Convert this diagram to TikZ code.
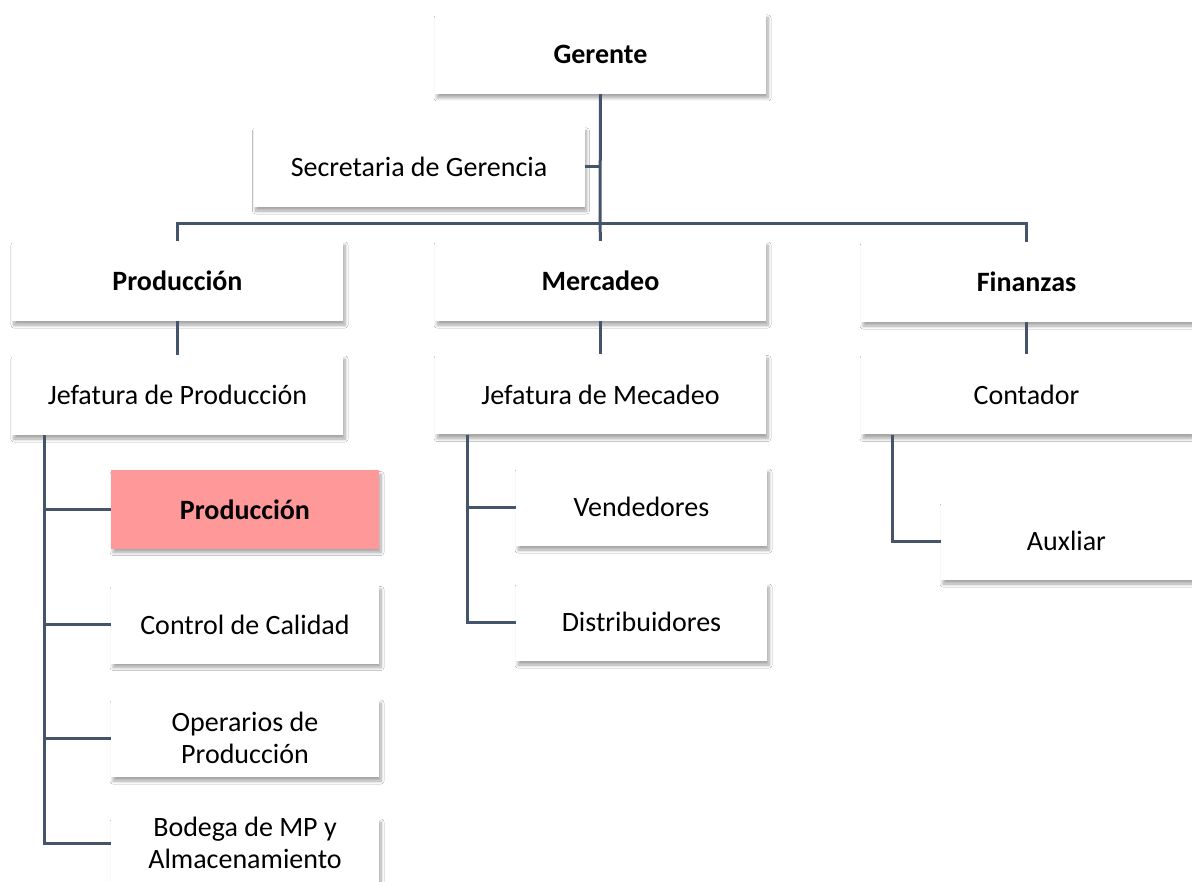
\documentclass[tikz,border=0pt]{standalone}
\usepackage{fontspec}
\setmainfont{Carlito}
\usetikzlibrary{shadows.blur}
\definecolor{linec}{HTML}{44546A}
\definecolor{pinkc}{HTML}{FF9999}
\tikzset{
  shad/.style={blur shadow={shadow xshift=2pt, shadow yshift=-4pt, shadow blur radius=3pt, shadow blur steps=8, shadow opacity=35}},
  box/.style={fill=white, inner sep=0pt, align=center, font=\fontsize{28}{32}\selectfont, shad},
  wide/.style={box, minimum width=331pt, minimum height=80pt},
  narrow/.style={box, minimum width=268pt, minimum height=78pt},
  narrowb/.style={box, minimum width=251pt, minimum height=78pt},
  conn/.style={draw=linec, line width=3pt},
  bold/.style={font=\fontsize{28}{32}\selectfont\bfseries},
  plain/.style={inner sep=0pt, align=center, font=\fontsize{28}{32}\selectfont}
}
\begin{document}
\begin{tikzpicture}[x=1pt,y=-1pt]
\useasboundingbox (0,0) rectangle (1192,882);
\clip (0,0) rectangle (1192,882);
\fill[white] (0,0) rectangle (1192,882);
\coordinate (bus) at (600,224);
\node[wide, bold] (ger) at (600.5,54) {Gerente};
\node[wide] (sec) at (419,167) {Secretaria de Gerencia};
\node[wide, bold] (prod) at (177.5,281) {Producción};
\node[wide, bold] (mer) at (600.5,281) {Mercadeo};
\node[wide, bold] (fin) at (1026.5,282) {Finanzas};
\node[wide] (jp) at (177.5,395) {Jefatura de Producción};
\node[wide] (jm) at (600.5,394.5) {Jefatura de Mecadeo};
\node[wide] (cont) at (1026.5,394.5) {Contador};
\node[narrow, bold, fill=pinkc] (p1) at (245,509.5) {Producción};
\node[narrow] (p2) at (245,624.5) {Control de Calidad};
\node[narrow] (p3) at (245,738) {Operarios de\\Producción};
\node[narrow] (p4) at (245,857) {};
\node[plain] (p4t) at (245,843) {Bodega de MP y\\Almacenamiento};
\node[narrowb] (m1) at (641.5,507) {Vendedores};
\node[narrowb] (m2) at (641.5,622) {Distribuidores};
\node[narrowb] (f1) at (1066.5,541) {Auxliar};
\coordinate (jpt) at ([xshift=33pt]jp.south west);
\coordinate (jmt) at ([xshift=33pt]jm.south west);
\coordinate (fit) at ([xshift=32pt]cont.south west);
\draw[conn] (ger.south) -- (bus);
\draw[conn] (sec.east) -- (sec.east -| ger.south);
\draw[conn] (prod.north) -- (prod.north |- bus) -- (fin.north |- bus) -- (fin.north);
\draw[conn] (bus) -- (mer.north);
\draw[conn] (prod.south) -- (jp.north);
\draw[conn] (mer.south) -- (jm.north);
\draw[conn] (fin.south) -- (cont.north);
\draw[conn] (jpt) |- (p4.west |- p4t.center);
\draw[conn] (p1.west) -- (p1.west -| jpt);
\draw[conn] (p2.west) -- (p2.west -| jpt);
\draw[conn] (p3.west) -- (p3.west -| jpt);
\draw[conn] (jmt) |- (m2.west);
\draw[conn] (m1.west) -- (m1.west -| jmt);
\draw[conn] (fit) |- (f1.west);
\end{tikzpicture}
\end{document}
